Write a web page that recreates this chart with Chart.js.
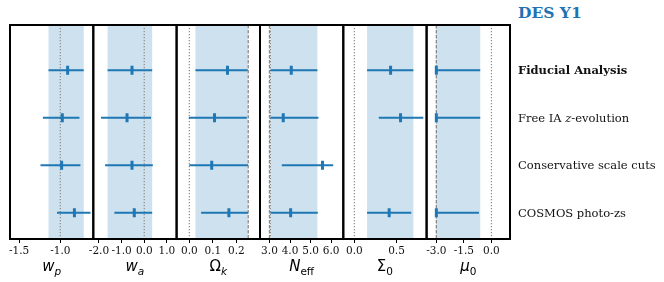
<!DOCTYPE html>
<html>
<head>
<meta charset="utf-8">
<script src="https://cdn.jsdelivr.net/npm/chart.js@4.4.1/dist/chart.umd.min.js"></script>
<style>
  html, body { margin: 0; padding: 0; background: #fff; }
  #wrap { position: relative; width: 664px; height: 282px; overflow: hidden; }
  #wrap canvas { position: absolute; left: 0; top: 0; }
  .row-label {
    position: absolute; left: 518px; white-space: nowrap;
    font: 11.5px "DejaVu Serif", serif; color: #111;
    transform: translateY(-50%);
  }
  .row-label.main { font-weight: bold; }
  #title {
    position: absolute; left: 518px; top: 3px;
    font: bold 15.5px "DejaVu Serif", serif; color: #1f72b4;
  }
</style>
</head>
<body>
<div id="wrap"><div id="title">DES Y1</div></div>
<script>
(() => {
  // rows, top to bottom
  const analyses = ["Fiducial Analysis", "Free IA z-evolution", "Conservative scale cuts", "COSMOS photo-zs"];

  // w_p
  const wpMean = [-0.911, -0.976, -0.984, -0.829];
  const wpLow = [-1.143, -1.211, -1.240, -1.040];
  const wpHigh = [-0.716, -0.768, -0.756, -0.634];
  const wpTicks = [-1.5, -1.0];

  // w_a
  const waMean = [-0.54, -0.76, -0.54, -0.44];
  const waLow = [-1.62, -1.91, -1.73, -1.32];
  const waHigh = [0.35, 0.30, 0.38, 0.35];
  const waTicks = [-2.0, -1.0, 0.0, 1.0];

  // Omega_k
  const okMean = [0.162, 0.107, 0.095, 0.168];
  const okLow = [0.026, -0.002, 0.0, 0.05];
  const okHigh = [0.248, 0.244, 0.249, 0.249];
  const okTicks = [0.0, 0.1, 0.2];

  // N_eff
  const neMean = [4.06, 3.67, 5.58, 4.03];
  const neLow = [3.046, 3.046, 3.60, 3.046];
  const neHigh = [5.33, 5.38, 6.10, 5.35];
  const neTicks = [3.0, 4.0, 5.0, 6.0];

  // Sigma_0 (no conservative-cuts result)
  const s0Mean = [0.43, 0.548, null, 0.413];
  const s0Low = [0.151, 0.29, null, 0.151];
  const s0High = [0.70, 0.818, null, 0.675];
  const s0Ticks = [0.0, 0.5];

  // mu_0 (no conservative-cuts result)
  const m0Mean = [-3.0, -3.0, null, -3.0];
  const m0Low = [-3.0, -3.0, null, -3.0];
  const m0High = [-0.61, -0.61, null, -0.68];
  const m0Ticks = [-3.0, -1.5, 0.0];

  const C0 = "#1f77b4";
  const bandColor = "rgba(31, 119, 180, 0.22)";
  const W = 664, H = 282;
  const plotTop = 25, plotBottom = 239;
  const edges = [10, 93.3, 176.6, 260, 343.3, 426.6, 510];

  const panels = [
    { label: [["w", "i"], ["p", "is"]], min: -1.61, max: -0.60, ticks: wpTicks,
      mean: wpMean, low: wpLow, high: wpHigh, dotted: [-1.0], dashed: [] },
    { label: [["w", "i"], ["a", "is"]], min: -2.25, max: 1.43, ticks: waTicks,
      mean: waMean, low: waLow, high: waHigh, dotted: [0.0], dashed: [] },
    { label: [["Ω", ""], ["k", "is"]], min: -0.054, max: 0.30, ticks: okTicks,
      mean: okMean, low: okLow, high: okHigh, dotted: [0.0], dashed: [0.25] },
    { label: [["N", "i"], ["eff", "s"]], min: 2.54, max: 6.59, ticks: neTicks,
      mean: neMean, low: neLow, high: neHigh, dotted: [3.046], dashed: [3.0] },
    { label: [["Σ", ""], ["0", "s"]], min: -0.131, max: 0.857, ticks: s0Ticks,
      mean: s0Mean, low: s0Low, high: s0High, dotted: [0.0], dashed: [] },
    { label: [["μ", "i"], ["0", "s"]], min: -3.53, max: 1.01, ticks: m0Ticks,
      mean: m0Mean, low: m0Low, high: m0High, dotted: [0.0], dashed: [-3.0] }
  ];

  const decor = {
    id: "panelDecor",
    beforeDatasetsDraw(chart, args, opts) {
      const p = panels[opts.index];
      const { ctx, chartArea: a } = chart;
      const x = chart.scales.x, y = chart.scales.y;
      ctx.save();
      ctx.beginPath();
      ctx.rect(a.left, a.top, a.right - a.left, a.bottom - a.top);
      ctx.clip();

      // shaded band = fiducial interval
      const b0 = x.getPixelForValue(p.low[0]);
      const b1 = x.getPixelForValue(p.high[0]);
      ctx.fillStyle = bandColor;
      ctx.fillRect(b0, a.top, b1 - b0, a.bottom - a.top);

      const vline = (v, dash, color, width) => {
        const px = x.getPixelForValue(v);
        ctx.strokeStyle = color;
        ctx.lineWidth = width;
        ctx.setLineDash(dash);
        ctx.beginPath();
        ctx.moveTo(px, a.top);
        ctx.lineTo(px, a.bottom);
        ctx.stroke();
      };
      p.dashed.forEach((v) => vline(v, [3.5, 1.5], "#8a8a8a", 1.3));
      p.dotted.forEach((v) => vline(v, [1.2, 1.8], "#8a8a8a", 1.2));
      ctx.setLineDash([]);

      // error bars
      ctx.strokeStyle = C0;
      ctx.lineWidth = 2;
      p.mean.forEach((m, i) => {
        if (m === null) {
          return;
        }
        const py = y.getPixelForValue(i + 1);
        ctx.beginPath();
        ctx.moveTo(x.getPixelForValue(p.low[i]), py);
        ctx.lineTo(x.getPixelForValue(p.high[i]), py);
        ctx.stroke();
      });
      ctx.restore();
    },
    afterDraw(chart, args, opts) {
      const p = panels[opts.index];
      const { ctx, chartArea: a } = chart;
      ctx.save();
      ctx.strokeStyle = "#000";
      ctx.lineWidth = 2;
      ctx.strokeRect(a.left, a.top, a.right - a.left, a.bottom - a.top);

      // axis label with subscript
      const fontFor = (style) => {
        const italic = style.includes("i") ? "italic " : "";
        const size = style.includes("s") ? 10.5 : 15;
        return `${italic}${size}px "DejaVu Sans", sans-serif`;
      };
      let total = 0;
      const widths = p.label.map(([t, style]) => {
        ctx.font = fontFor(style);
        const w = ctx.measureText(t).width;
        total += w;
        return w;
      });
      let cx = (a.left + a.right) / 2 - total / 2;
      const base = 271;
      ctx.fillStyle = "#000";
      ctx.textAlign = "left";
      ctx.textBaseline = "alphabetic";
      p.label.forEach(([t, style], i) => {
        ctx.font = fontFor(style);
        ctx.fillText(t, cx, style.includes("s") ? base + 3.5 : base);
        cx += widths[i];
      });
      ctx.restore();
    }
  };

  const wrap = document.getElementById("wrap");
  const charts = panels.map((p, i) => {
    const canvas = document.createElement("canvas");
    canvas.width = W;
    canvas.height = H;
    wrap.appendChild(canvas);
    const points = p.mean
      .map((m, r) => (m === null ? null : { x: m, y: r + 1 }))
      .filter((pt) => pt !== null);

    return new Chart(canvas, {
      type: "scatter",
      data: {
        datasets: [{
          data: points,
          pointStyle: "line",
          rotation: 90,
          radius: 4.5,
          hoverRadius: 4.5,
          borderWidth: 3,
          borderColor: C0,
          backgroundColor: C0
        }]
      },
      plugins: [decor],
      options: {
        responsive: false,
        animation: false,
        devicePixelRatio: 1,
        layout: {
          padding: { left: edges[i], right: W - edges[i + 1], top: plotTop, bottom: 0 }
        },
        plugins: {
          legend: { display: false },
          tooltip: { enabled: false },
          panelDecor: { index: i }
        },
        scales: {
          x: {
            type: "linear",
            min: p.min,
            max: p.max,
            afterBuildTicks(scale) {
              scale.ticks = p.ticks.map((v) => ({ value: v }));
            },
            afterFit(scale) {
              scale.height = H - plotBottom;
            },
            ticks: {
              autoSkip: false,
              maxRotation: 0,
              padding: 2,
              color: "#111",
              font: { family: "DejaVu Serif", size: 10.5 },
              callback: (v) => Number(v).toFixed(1)
            },
            grid: {
              drawOnChartArea: false,
              drawTicks: true,
              tickLength: 4,
              color: "#000",
              lineWidth: 1
            },
            border: { display: false }
          },
          y: {
            type: "linear",
            min: 0.05,
            max: 4.55,
            reverse: true,
            display: false
          }
        }
      }
    });
  });

  // row labels on the right, aligned to the row positions
  const yScale = charts[charts.length - 1].scales.y;
  analyses.forEach((name, r) => {
    const div = document.createElement("div");
    div.className = "row-label" + (r === 0 ? " main" : "");
    div.innerHTML = name.replace(/IA z-/, "IA <i>z</i>-");
    div.style.top = `${yScale.getPixelForValue(r + 1)}px`;
    wrap.appendChild(div);
  });
})();
</script>
</body>
</html>
